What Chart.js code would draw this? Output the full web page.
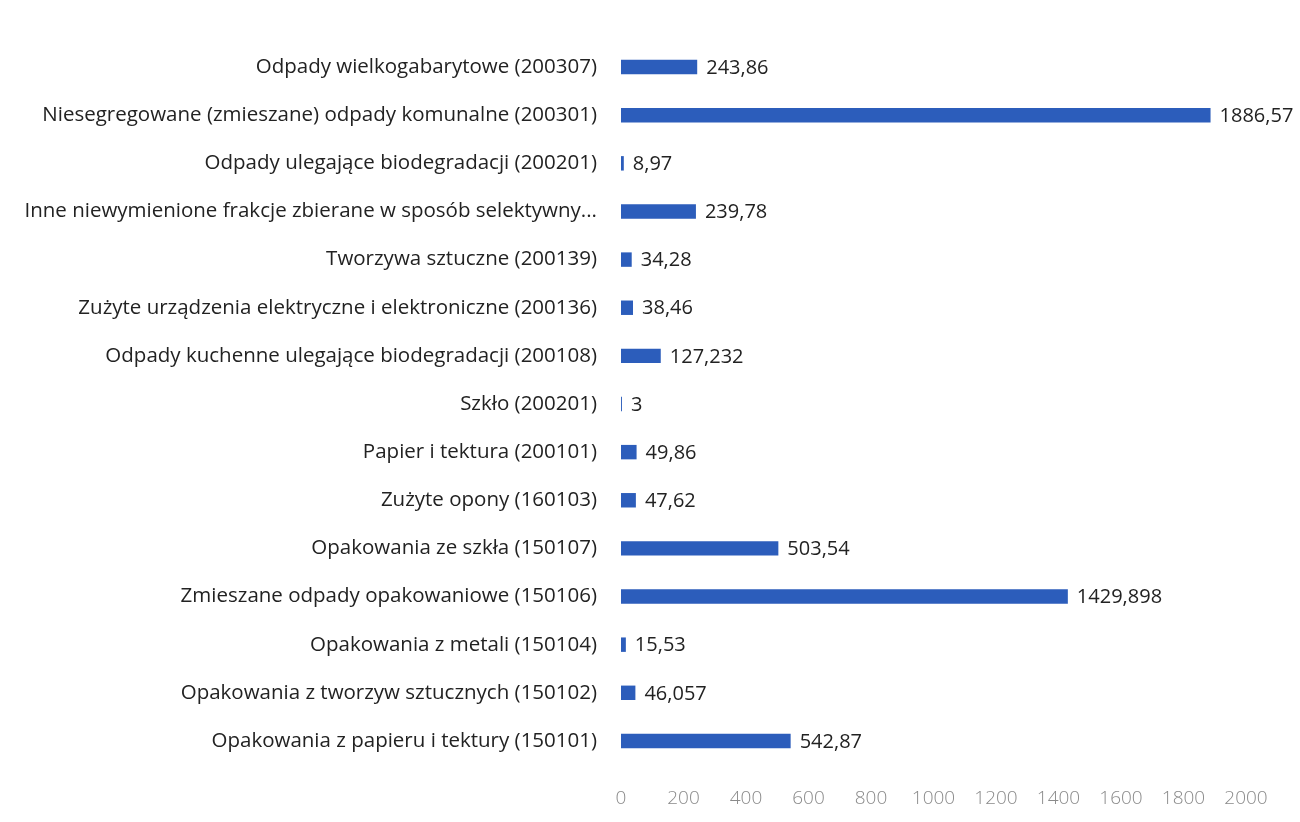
<!DOCTYPE html>
<html>
<head>
<meta charset="utf-8">
<script src="https://cdn.jsdelivr.net/npm/chart.js@4/dist/chart.umd.min.js"></script>
<style>
  html, body { margin: 0; padding: 0; background: #fff; }
  #wrap { width: 1300px; height: 822px; }
</style>
</head>
<body>
<div id="wrap"><canvas id="chart" width="1300" height="822"></canvas></div>
<script>
const categories = [
    "Odpady wielkogabarytowe (200307)",
    "Niesegregowane (zmieszane) odpady komunalne (200301)",
    "Odpady ulegające biodegradacji (200201)",
    "Inne niewymienione frakcje zbierane w sposób selektywny...",
    "Tworzywa sztuczne (200139)",
    "Zużyte urządzenia elektryczne i elektroniczne (200136)",
    "Odpady kuchenne ulegające biodegradacji (200108)",
    "Szkło (200201)",
    "Papier i tektura (200101)",
    "Zużyte opony (160103)",
    "Opakowania ze szkła (150107)",
    "Zmieszane odpady opakowaniowe (150106)",
    "Opakowania z metali (150104)",
    "Opakowania z tworzyw sztucznych (150102)",
    "Opakowania z papieru i tektury (150101)"
];
const values = [243.86, 1886.57, 8.97, 239.78, 34.28, 38.46, 127.232, 3, 49.86, 47.62, 503.54, 1429.898, 15.53, 46.057, 542.87];
const xTicks = [0, 200, 400, 600, 800, 1000, 1200, 1400, 1600, 1800, 2000];

const barColor = "#2c5dbb";

// value text to the right of each bar, decimal comma as in the source
const valueLabels = {
    id: "valueLabels",
    afterDatasetsDraw(chart) {
        const ctx = chart.ctx;
        const meta = chart.getDatasetMeta(0);
        ctx.save();
        ctx.font = "20px 'Open Sans'";
        ctx.fillStyle = "#222";
        ctx.textBaseline = "middle";
        ctx.textAlign = "left";
        meta.data.forEach((bar, i) => {
            const txt = String(values[i]).replace(".", ",");
            ctx.fillText(txt, bar.x + 9, bar.y + 1);
        });
        ctx.restore();
    }
};

new Chart(document.getElementById("chart"), {
    type: "bar",
    data: {
        labels: categories,
        datasets: [{
            data: values,
            backgroundColor: barColor,
            barPercentage: 0.6,
            categoryPercentage: 0.5
        }]
    },
    options: {
        indexAxis: "y",
        responsive: false,
        animation: false,
        layout: { padding: { top: 43, right: 54, left: 0, bottom: 0 } },
        plugins: {
            legend: { display: false },
            tooltip: { enabled: false }
        },
        scales: {
            y: {
                grid: { display: false },
                border: { display: false },
                ticks: {
                    color: "#222",
                    font: { family: "'Open Sans'", size: 20.5 },
                    padding: 16,
                    autoSkip: false
                },
                afterFit(scale) { scale.width = 621; }
            },
            x: {
                min: 0,
                max: 2000,
                afterBuildTicks(scale) { scale.ticks = xTicks.map(v => ({ value: v })); },
                grid: { display: false },
                border: { display: false },
                ticks: {
                    color: "#8a8a8a",
                    font: { family: "'Open Sans'", size: 19, weight: 300 },
                    padding: 14,
                    maxRotation: 0,
                    callback: (v) => String(v)
                },
                afterFit(scale) { scale.height = 57; }
            }
        }
    },
    plugins: [valueLabels]
});
</script>
</body>
</html>
